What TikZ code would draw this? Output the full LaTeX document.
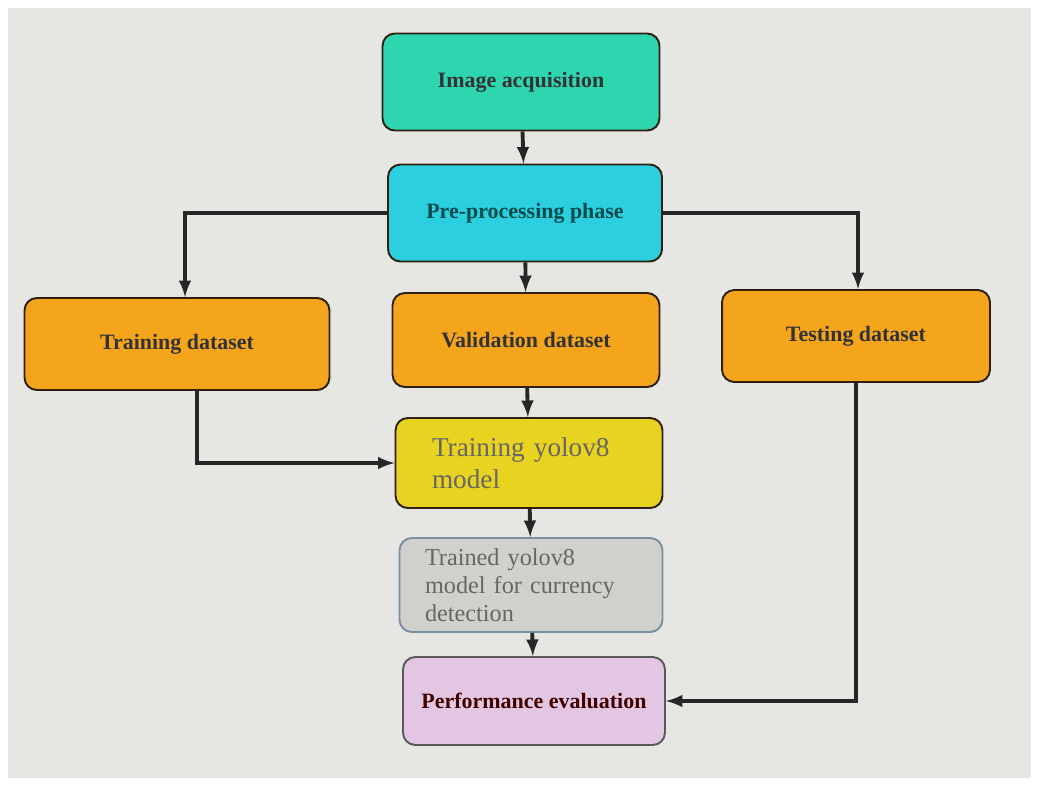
\documentclass[tikz,border=0pt]{standalone}
\usepackage{fontspec}
\setmainfont{Liberation Serif}
\usepackage{tikz}
\definecolor{acqgreen}{HTML}{2ED6B0}
\definecolor{precyan}{HTML}{2BCFE0}
\definecolor{dataorange}{HTML}{F4A51C}
\definecolor{trainyellow}{HTML}{E9D321}
\definecolor{modelgray}{HTML}{D0D0CC}
\definecolor{modelline}{HTML}{7A8FA0}
\definecolor{evalpink}{HTML}{E2C6E2}
\definecolor{paper}{HTML}{E6E6E3}

\begin{document}
\begin{tikzpicture}[x=0.02cm,y=-0.02cm,
  box/.style={draw=black!75!brown, rounded corners=7pt, line width=1.1pt, align=center,
    font=\fontsize{12.5}{14}\selectfont\bfseries, text=black!80},
  arr/.style={-latex, line width=2.2pt, black!85}]
\fill[white] (0,0) rectangle (1038,785);
\fill[paper] (8,8) rectangle (1031,778);
\node[box, fill=acqgreen, minimum width=5.54cm, minimum height=1.94cm] (acq) at (521,82) {Image acquisition};
\node[box, fill=precyan, minimum width=5.48cm, minimum height=1.94cm, text=teal!60!black] (pre) at (525,213) {Pre-processing phase};
\node[box, fill=dataorange, minimum width=6.1cm, minimum height=1.84cm] (train) at (177,344) {Training dataset};
\node[box, fill=dataorange, minimum width=5.34cm, minimum height=1.88cm] (valid) at (526,340) {Validation dataset};
\node[box, fill=dataorange, minimum width=5.36cm, minimum height=1.84cm] (test) at (856,336) {Testing dataset};
\node[box, fill=trainyellow, minimum width=5.34cm, minimum height=1.8cm, align=left, text width=3.88cm,
  font=\fontsize{15.5}{18}\selectfont, text=black!60] (yolo) at (529,463) {Training yolov8\\model};
\node[box, fill=modelgray, draw=modelline, minimum width=5.26cm, minimum height=1.88cm, align=left, text width=4.24cm,
  font=\fontsize{13.8}{16}\selectfont, text=black!60] (trained) at (531,585) {Trained yolov8\\model for currency\\detection};
\node[box, fill=evalpink, draw=gray!70!black, minimum width=5.24cm, minimum height=1.76cm, text=black!75!red] (eval) at (534,701) {Performance evaluation};
% links
\draw[arr] (acq) -- (pre);
\draw[arr] (pre) -- (valid);
\draw[arr] (pre.west) -| (train.north -| 185,0);
\draw[arr] (pre.east) -| (test.north -| 858,0);
\draw[arr] (valid) -- (yolo);
\draw[arr] (train.south -| 197,0) |- (yolo.west);
\draw[arr] (yolo) -- (trained);
\draw[arr] (trained) -- (eval);
\draw[arr] (test.south) |- (eval.east);
\end{tikzpicture}
\end{document}
